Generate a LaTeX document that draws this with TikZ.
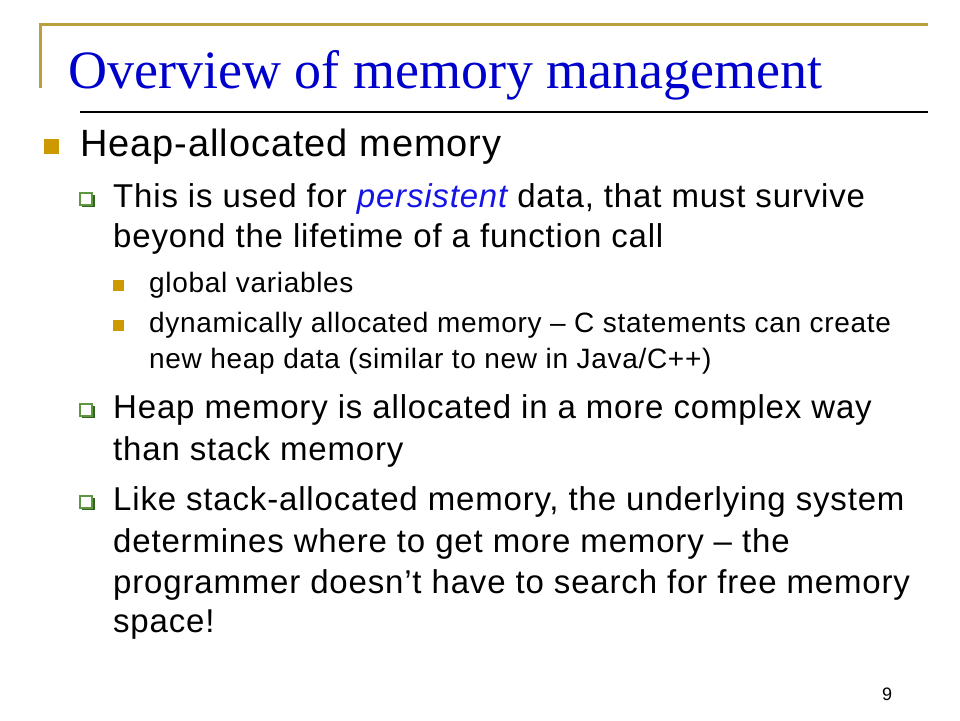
\documentclass[tikz,border=0pt]{standalone}
\usepackage{fontspec}
\setmainfont{Liberation Serif}
\setsansfont[LetterSpace=2.5]{Liberation Sans}
\definecolor{framegold}{RGB}{186,160,60}
\definecolor{bulletgold}{RGB}{204,153,0}
\definecolor{titleblue}{RGB}{0,0,204}
\definecolor{wordblue}{RGB}{20,20,230}
\definecolor{boxgreen}{RGB}{95,150,65}
\definecolor{shadowgreen}{RGB}{50,100,30}
\tikzset{
  titletxt/.style={anchor=base west,inner sep=0pt,text=titleblue,font=\rmfamily\fontsize{54}{58}\selectfont},
  txtone/.style={anchor=base west,inner sep=0pt,font=\sffamily\fontsize{38}{40}\selectfont},
  txttwo/.style={anchor=base west,inner sep=0pt,font=\sffamily\fontsize{33}{36}\selectfont},
  txtthree/.style={anchor=base west,inner sep=0pt,font=\sffamily\fontsize{28}{30}\selectfont},
  goldsq/.style={draw=none,fill=bulletgold},
  greensq/.style={draw=boxgreen,line width=1.5pt,fill=white},
  greenshadow/.style={draw=none,fill=shadowgreen},
}
\begin{document}
\begin{tikzpicture}[x=1pt,y=1pt,yscale=-1,xscale=1]
\useasboundingbox (0,0) rectangle (960,720);
\fill[white] (0,0) rectangle (960,720);

%Straight Lines: frame
\draw [color=framegold,line width=3pt] (40,88) -- (40,24) -- (928,24) ;
%Straight Lines: rule under title
\draw [color=black,line width=1.4pt] (80,112) -- (928,112) ;

%Title
\node [titletxt] (title) at (68,88) {Overview of memory management};

%Shape: Square (level 1)
\draw [goldsq] (44,139) rectangle ++(15,15) ;
\node [txtone] (heap) at (80,156) {Heap-allocated memory};

%Shape: Square (level 2)
\fill [greenshadow] (82,195) rectangle ++(13,12) ;
\draw [greensq] (80,193) rectangle ++(12,12) ;
\node [txttwo] (usedA) at (113,207) {This is used for \textcolor{wordblue}{\itshape persistent} data, that must survive};
\node [txttwo] (usedB) at (113,247) {beyond the lifetime of a function call};

%Shape: Square (level 3)
\draw [goldsq] (113,280) rectangle ++(11,11) ;
\node [txtthree] (globals) at (149,292) {global variables};
%Shape: Square (level 3)
\draw [goldsq] (113,320) rectangle ++(11,11) ;
\node [txtthree] (dynA) at (149,332) {dynamically allocated memory – C statements can create};
\node [txtthree] (dynB) at (149,368) {new heap data (similar to new in Java/C++)};

%Shape: Square (level 2)
\fill [greenshadow] (82,406) rectangle ++(13,12) ;
\draw [greensq] (80,404) rectangle ++(12,12) ;
\node [txttwo] (complexA) at (113,418) {Heap memory is allocated in a more complex way};
\node [txttwo] (complexB) at (113,460) {than stack memory};

%Shape: Square (level 2)
\fill [greenshadow] (82,498) rectangle ++(13,12) ;
\draw [greensq] (80,496) rectangle ++(12,12) ;
\node [txttwo] (likeA) at (113,510) {Like stack-allocated memory, the underlying system};
\node [txttwo] (likeB) at (113,552) {determines where to get more memory – the};
\node [txttwo] (likeC) at (113,593) {programmer doesn’t have to search for free memory};
\node [txttwo] (likeD) at (113,632) {space!};

%Page number
\node [anchor=base,inner sep=0pt,font=\sffamily\fontsize{18}{20}\selectfont] (pagenum) at (887,700) {9};
\end{tikzpicture}
\end{document}
